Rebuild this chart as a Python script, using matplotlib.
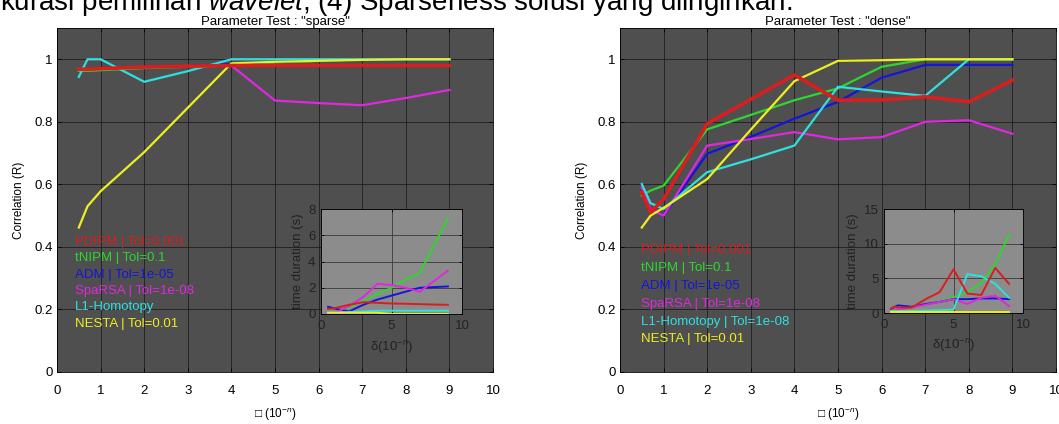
import matplotlib
matplotlib.use("Agg")
import matplotlib.pyplot as plt
from matplotlib.ticker import FormatStrFormatter

plt.rcParams["font.family"] = ["Liberation Sans", "DejaVu Sans"]
plt.rcParams["mathtext.fontset"] = "custom"
plt.rcParams["mathtext.rm"] = "Liberation Sans"
plt.rcParams["mathtext.it"] = "Liberation Sans:italic"

# delta values (10^-n)
delta = [0.5, 0.7, 1, 2, 3, 4, 5, 6, 7, 8, 9]

labels_sparse = ["PDIPM | Tol=0.001", "tNIPM | Tol=0.1", "ADM | Tol=1e-05",
                 "SpaRSA | Tol=1e-08", "L1-Homotopy", "NESTA | Tol=0.01"]
labels_dense = ["PDIPM | Tol=0.001", "tNIPM | Tol=0.1", "ADM | Tol=1e-05",
                "SpaRSA | Tol=1e-08", "L1-Homotopy | Tol=1e-08", "NESTA | Tol=0.01"]

# correlation, test "sparse"
pdipm_r_s = [0.968, 0.968, 0.970, 0.975, 0.978, 0.980, 0.980, 0.980, 0.980, 0.980, 0.980]
tnipm_r_s = [0.963, 0.963, 0.965, 0.972, 0.976, 0.980, 0.990, 0.995, 1.0, 1.0, 1.0]
adm_r_s = [0.968, 0.968, 0.970, 0.975, 0.978, 0.985, 0.992, 0.996, 1.0, 1.0, 1.0]
sparsa_r_s = [0.968, 0.968, 0.970, 0.975, 0.978, 0.980, 0.868, 0.860, 0.853, 0.876, 0.902]
l1h_r_s = [0.944, 1.0, 1.0, 0.928, 0.962, 1.0, 1.0, 1.0, 1.0, 1.0, 1.0]
nesta_r_s = [0.462, 0.53, 0.578, 0.703, 0.845, 0.987, 0.992, 0.995, 0.998, 1.0, 1.0]

# correlation, test "dense"
pdipm_r_d = [0.575, 0.51, 0.553, 0.794, 0.872, 0.950, 0.869, 0.870, 0.880, 0.864, 0.933]
tnipm_r_d = [0.564, 0.58, 0.596, 0.776, 0.822, 0.869, 0.907, 0.976, 1.0, 1.0, 1.0]
adm_r_d = [0.58, 0.52, 0.50, 0.698, 0.752, 0.81, 0.864, 0.941, 0.982, 0.982, 0.982]
sparsa_r_d = [0.59, 0.52, 0.50, 0.724, 0.745, 0.767, 0.744, 0.751, 0.80, 0.805, 0.762]
l1h_r_d = [0.601, 0.54, 0.521, 0.639, 0.68, 0.724, 0.912, 0.897, 0.883, 1.0, 1.0]
nesta_r_d = [0.462, 0.50, 0.525, 0.617, 0.775, 0.93, 0.995, 0.997, 1.0, 1.0, 1.0]

# time duration (s), test "sparse"
pdipm_t_s = [0.4, 0.4, 0.45, 0.7, 0.9, 0.85, 0.8, 0.78, 0.75, 0.72, 0.7]
tnipm_t_s = [0.05, 0.05, 0.1, 0.5, 1.0, 1.5, 2.0, 2.6, 3.1, 5.2, 7.3]
adm_t_s = [0.55, 0.5, 0.4, 0.2, 0.7, 1.1, 1.4, 1.7, 2.0, 2.05, 2.1]
sparsa_t_s = [0.1, 0.1, 0.1, 0.6, 1.3, 2.3, 2.2, 2.0, 1.7, 2.5, 3.3]
l1h_t_s = [0.1, 0.1, 0.1, 0.15, 0.2, 0.25, 0.25, 0.25, 0.25, 0.25, 0.25]
nesta_t_s = [0.1, 0.1, 0.1, 0.1, 0.1, 0.1, 0.0, 0.0, 0.0, 0.0, 0.0]

# time duration (s), test "dense"
pdipm_t_d = [0.6, 0.9, 0.8, 0.8, 2.0, 3.0, 6.3, 2.8, 2.6, 6.5, 4.2]
tnipm_t_d = [0.3, 0.4, 0.5, 0.8, 1.2, 1.7, 2.3, 3.0, 4.3, 7.0, 11.3]
adm_t_d = [0.6, 0.8, 1.1, 0.9, 1.3, 1.6, 2.0, 2.0, 2.1, 2.1, 2.0]
sparsa_t_d = [0.3, 0.4, 0.5, 0.8, 1.2, 1.6, 2.0, 1.3, 2.2, 2.5, 1.0]
l1h_t_d = [0.3, 0.3, 0.3, 0.3, 0.35, 0.4, 0.5, 5.6, 5.3, 4.2, 2.2]
nesta_t_d = [0.1, 0.1, 0.1, 0.1, 0.1, 0.1, 0.1, 0.1, 0.1, 0.1, 0.1]

colors = ["#d81e1e", "#2fd62f", "#1515d8", "#e028e0", "#30e0e0", "#eeee22"]
main_lw = [2.6, 1.6, 1.6, 1.6, 1.6, 1.6]
main_z = [3.0, 2.0, 2.1, 2.2, 2.3, 2.4]

fig = plt.figure(figsize=(10.59, 4.24), dpi=100)

# cut-off line of the surrounding document
fig.text(0.0, 1 - 9.5 / 424, "kurasi pemilihan $\\it{wavelet}$, (4) Sparseness solusi yang diinginkan.",
         fontsize=20, va="baseline", ha="left", color="black")


def style_main(ax, title):
    ax.set_facecolor("#4f4f4f")
    ax.set_xlim(0, 10)
    ax.set_ylim(0, 1.1)
    ax.set_xticks(range(0, 11))
    ax.set_yticks([0, 0.2, 0.4, 0.6, 0.8, 1.0])
    ax.yaxis.set_major_formatter(FormatStrFormatter("%g"))
    ax.tick_params(direction="in", top=True, right=True, length=3, width=0.6,
                   labelsize=9.5, colors="black")
    ax.tick_params(axis="x", pad=9)
    ax.tick_params(axis="y", pad=3)
    ax.grid(True, color="#1e1e1e", linewidth=0.6)
    ax.set_axisbelow(True)
    for s in ax.spines.values():
        s.set_color("black")
        s.set_linewidth(0.6)
    ax.set_title(title, fontsize=9.5, pad=2)
    ax.set_xlabel("\u25a1 (10$^{-n}$)", fontsize=8.5, labelpad=7)
    ax.set_ylabel("Correlation (R)", fontsize=8.5, labelpad=7)


def style_inset(ax, ymax, yticks):
    ax.set_facecolor("#8c8c8c")
    ax.set_xlim(0, 10)
    ax.set_ylim(0, ymax)
    ax.set_xticks([0, 5, 10])
    ax.set_yticks(yticks)
    ax.tick_params(direction="in", top=True, right=True, length=2.5, width=0.6,
                   labelsize=9.5, labelcolor="#222222")
    ax.tick_params(axis="x", pad=4)
    ax.tick_params(axis="y", pad=4)
    ax.grid(True, color="#3a3a3a", linewidth=0.6)
    ax.set_axisbelow(True)
    for s in ax.spines.values():
        s.set_color("black")
        s.set_linewidth(0.6)
    ax.set_xlabel("\u03b4(10$^{-n}$)", fontsize=9.5, color="#222222", labelpad=5)
    ax.set_ylabel("time duration (s)", fontsize=9.5, color="#222222", labelpad=3)


panels = [
    ("Parameter Test : \"sparse\"", labels_sparse,
     [pdipm_r_s, tnipm_r_s, adm_r_s, sparsa_r_s, l1h_r_s, nesta_r_s],
     [pdipm_t_s, tnipm_t_s, adm_t_s, sparsa_t_s, l1h_t_s, nesta_t_s],
     [57 / 1059, 52 / 424], [321 / 1059, 110 / 424, 141 / 1059, 105 / 424],
     8, [0, 2, 4, 6, 8], (0.041, 0.396), 0.31),
    ("Parameter Test : \"dense\"", labels_dense,
     [pdipm_r_d, tnipm_r_d, adm_r_d, sparsa_r_d, l1h_r_d, nesta_r_d],
     [pdipm_t_d, tnipm_t_d, adm_t_d, sparsa_t_d, l1h_t_d, nesta_t_d],
     [620 / 1059, 52 / 424], [884 / 1059, 111 / 424, 139 / 1059, 104 / 424],
     15, [0, 5, 10, 15], (0.048, 0.373), 0.43),
]

for title, labels, corr, times, origin, inset_box, ymax, yticks, leg_pos, leg_sp in panels:
    ax = fig.add_axes([origin[0], origin[1], 436 / 1059, 344 / 424])
    style_main(ax, title)
    for y, lab, c, lw, z in zip(corr, labels, colors, main_lw, main_z):
        ax.plot(delta, y, color=c, linewidth=lw, label=lab, zorder=z,
                solid_joinstyle="round")
    leg = ax.legend(loc="upper left", bbox_to_anchor=leg_pos, frameon=False,
                    handlelength=0, handletextpad=0, borderpad=0, borderaxespad=0,
                    labelspacing=leg_sp, fontsize=9.5, labelcolor="linecolor")
    for h in leg.legend_handles:
        h.set_visible(False)

    ins = fig.add_axes(inset_box)
    style_inset(ins, ymax, yticks)
    for y, c, z in zip(times, colors, main_z):
        ins.plot(delta, y, color=c, linewidth=1.4, zorder=z)

fig.savefig("out.png", dpi=100)
